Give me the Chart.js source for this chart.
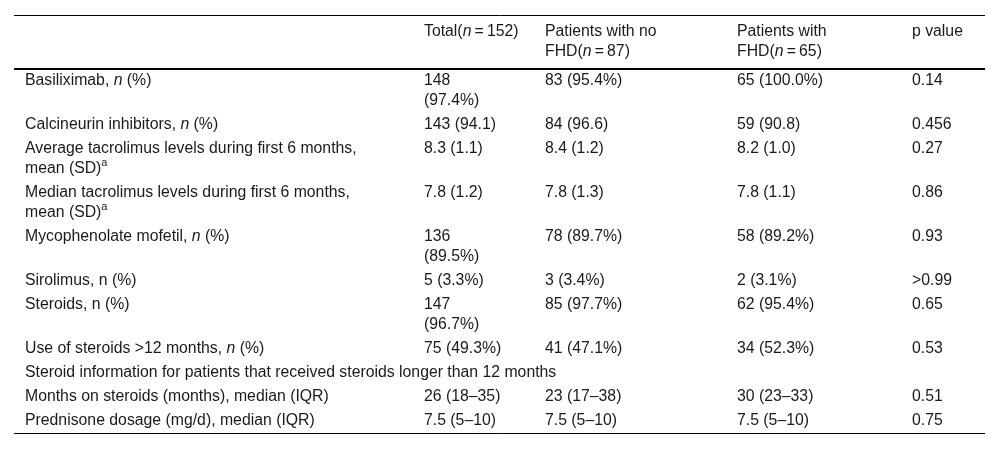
<!DOCTYPE html>
<html>
<head>
<meta charset="utf-8">
<script src="https://cdn.jsdelivr.net/npm/chart.js@4.4.1/dist/chart.umd.min.js"></script>
<style>
  html, body { margin: 0; padding: 0; background: #fff; }
  #wrap { width: 1000px; height: 449px; position: relative; }
</style>
</head>
<body>
<div id="wrap"><canvas id="tableChart"></canvas></div>
<script>
// table content: *x* = italic, ^x^ = superscript, \n = line break
var headers = ['', 'Total(*n*\u2009=\u2009152)', 'Patients with no\nFHD(*n*\u2009=\u200987)', 'Patients with\nFHD(*n*\u2009=\u200965)', 'p value']

var rowLabels = [
  'Basiliximab, *n* (%)',
  'Calcineurin inhibitors, *n* (%)',
  'Average tacrolimus levels during first 6 months,\nmean (SD)^a^',
  'Median tacrolimus levels during first 6 months,\nmean (SD)^a^',
  'Mycophenolate mofetil, *n* (%)',
  'Sirolimus, n (%)',
  'Steroids, n (%)',
  'Use of steroids >12 months, *n* (%)',
  'Steroid information for patients that received steroids longer than 12 months',
  'Months on steroids (months), median (IQR)',
  'Prednisone dosage (mg/d), median (IQR)'
]
var totalVals = ['148\n(97.4%)', '143 (94.1)', '8.3 (1.1)', '7.8 (1.2)', '136\n(89.5%)', '5 (3.3%)', '147\n(96.7%)', '75 (49.3%)', '', '26 (18\u201335)', '7.5 (5\u201310)']
var noFhdVals = ['83 (95.4%)', '84 (96.6)', '8.4 (1.2)', '7.8 (1.3)', '78 (89.7%)', '3 (3.4%)', '85 (97.7%)', '41 (47.1%)', '', '23 (17\u201338)', '7.5 (5\u201310)']
var fhdVals = ['65 (100.0%)', '59 (90.8)', '8.2 (1.0)', '7.8 (1.1)', '58 (89.2%)', '2 (3.1%)', '62 (95.4%)', '34 (52.3%)', '', '30 (23\u201333)', '7.5 (5\u201310)']
var pVals = ['0.14', '0.456', '0.27', '0.86', '0.93', '>0.99', '0.65', '0.53', '', '0.51', '0.75']

// layout
var colX = [11, 410, 531, 723, 898]   // left edge of each column, in table units
var lineH = 20
var headPad = 7
var rowPad = 2
var fontSize = 15.8
var fontFam = '"Liberation Sans", Arial, sans-serif'
var textColor = '#1a1a1a'

var rows = rowLabels.map(function(lbl, i){
  return [lbl, totalVals[i], noFhdVals[i], fhdVals[i], pVals[i]]
})

function nLines(cells){
  return Math.max.apply(null, cells.map(function(c){ return c.split('\n').length }))
}

// row tops in table units
var headH = nLines(headers) * lineH + headPad * 2
var rowTops = []
var acc = headH
rows.forEach(function(r){
  rowTops.push(acc)
  acc += nLines(r) * lineH + rowPad * 2
})
var tableH = acc

function drawRich(ctx, str, px, py){
  var parts = str.split(/(\*[^*]+\*|\^[^^]+\^)/)
  var cx = px
  parts.forEach(function(p){
    if(!p) return
    var dy = 0
    if(p[0] == '*'){
      ctx.font = 'italic ' + fontSize + 'px ' + fontFam
      p = p.slice(1, -1)
    } else if(p[0] == '^'){
      ctx.font = Math.round(fontSize * 0.7) + 'px ' + fontFam
      p = p.slice(1, -1)
      dy = -6
    } else {
      ctx.font = fontSize + 'px ' + fontFam
    }
    ctx.fillText(p, cx, py + dy)
    cx += ctx.measureText(p).width
  })
}

var tablePlugin = {
  id: 'tablePlugin',
  afterDraw: function(chart){
    var ctx = chart.ctx
    var xs = chart.scales.x
    var ys = chart.scales.y
    ctx.save()
    ctx.fillStyle = textColor
    ctx.textBaseline = 'middle'
    ctx.textAlign = 'left'

    function cell(text, col, top, pad){
      text.split('\n').forEach(function(line, k){
        var py = ys.getPixelForValue(top + pad + (k + 0.5) * lineH)
        drawRich(ctx, line, xs.getPixelForValue(colX[col]), py)
      })
    }

    headers.forEach(function(h, c){ cell(h, c, 0, headPad) })
    rows.forEach(function(r, i){
      r.forEach(function(v, c){ cell(v, c, rowTops[i], rowPad) })
    })

    // rules
    ctx.strokeStyle = '#000'
    var x0 = xs.left, x1 = xs.right
    function rule(val, w){
      var py = Math.round(ys.getPixelForValue(val))
      ctx.lineWidth = w
      ctx.beginPath()
      ctx.moveTo(x0, w % 2 ? py + 0.5 : py)
      ctx.lineTo(x1, w % 2 ? py + 0.5 : py)
      ctx.stroke()
    }
    rule(0, 1)
    rule(headH, 2)
    rule(tableH, 1)
    ctx.restore()
  }
}

new Chart(document.getElementById('tableChart'), {
  type: 'scatter',
  data: { datasets: [] },
  options: {
    responsive: true,
    maintainAspectRatio: false,
    animation: false,
    layout: { padding: { left: 14, right: 15, top: 15, bottom: 16 } },
    plugins: { legend: { display: false }, tooltip: { enabled: false } },
    scales: {
      x: { type: 'linear', display: false, min: 0, max: 971 },
      y: { type: 'linear', display: false, min: 0, max: tableH, reverse: true }
    }
  },
  plugins: [tablePlugin]
})
</script>
</body>
</html>
